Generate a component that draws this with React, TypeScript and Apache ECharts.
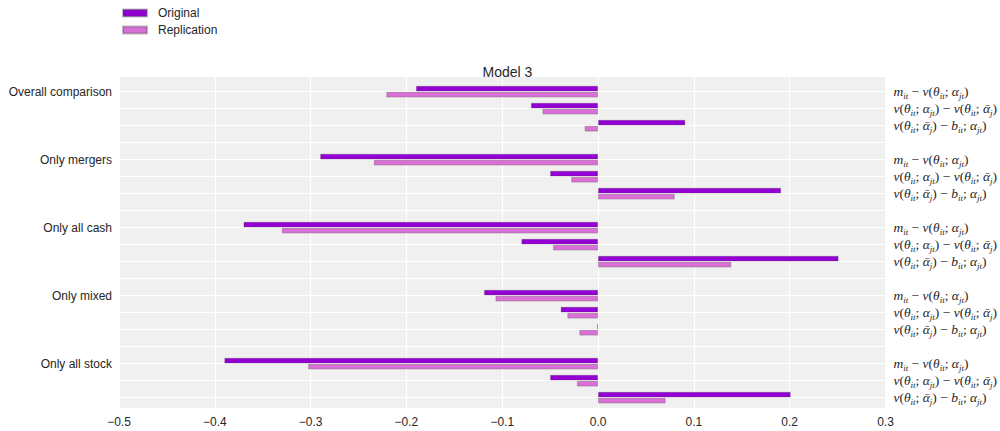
import React, { useEffect, useRef } from "react";
import * as echarts from "echarts";

const groups = ["Overall comparison", "Only mergers", "Only all cash", "Only mixed", "Only all stock"];
const formulas = [
  "{i|m}{s|it}{r| − }{i|v}{r|(}{i|θ}{s|it}{r|; }{i|α}{s|jt}{r|)}",
  "{i|v}{r|(}{i|θ}{s|it}{r|; }{i|α}{s|jt}{r|) − }{i|v}{r|(}{i|θ}{s|it}{r|; }{i|ᾱ}{s|j}{r|)}",
  "{i|v}{r|(}{i|θ}{s|it}{r|; }{i|ᾱ}{s|j}{r|) − }{i|b}{s|it}{r|; }{i|α}{s|jt}{r|)}",
];
const original = [
  [-0.19, -0.07, 0.091],
  [-0.29, -0.05, 0.191],
  [-0.37, -0.08, 0.251],
  [-0.119, -0.039, -0.001],
  [-0.39, -0.05, 0.201],
];
const replication = [
  [-0.221, -0.058, -0.014],
  [-0.234, -0.028, 0.08],
  [-0.33, -0.047, 0.139],
  [-0.107, -0.032, -0.0195],
  [-0.3025, -0.022, 0.0705],
];
const xTicks = { min: -0.5, max: 0.3, interval: 0.1 };

export default function App() {
  const ref = useRef<HTMLDivElement>(null);
  useEffect(() => {
    if (!ref.current) return;
    const chart = echarts.init(ref.current, null, { renderer: "svg" });

    const cats: string[] = [];
    const leftLabels: string[] = [];
    const rightLabels: string[] = [];
    const origData: (number | null)[] = [];
    const replData: (number | null)[] = [];
    const push = (l: string, r: string, o: number | null, p: number | null) => {
      cats.push(String(cats.length));
      leftLabels.push(l);
      rightLabels.push(r);
      origData.push(o);
      replData.push(p);
    };
    push("", "", null, null);
    groups.forEach((g, gi) => {
      for (let k = 0; k < 3; k++) {
        push(k === 0 ? g : "", formulas[k], original[gi][k], replication[gi][k]);
      }
      if (gi < groups.length - 1) push("", "", null, null);
    });
    push("", "", null, null);

    const textColor = "#262626";
    const mathFont = "'Liberation Serif', 'DejaVu Serif', serif";
    const border = { borderColor: "rgba(70,70,70,0.35)", borderWidth: 0.8 };

    chart.setOption({
      animation: false,
      textStyle: { fontFamily: "'Liberation Sans', Arial, sans-serif" },
      title: {
        text: "Model 3",
        left: 502.5,
        top: 60,
        textAlign: "center",
        textStyle: { fontSize: 14, fontWeight: "normal", color: textColor },
      },
      legend: {
        orient: "vertical",
        left: 117,
        top: 2,
        itemWidth: 24,
        itemHeight: 7,
        itemGap: 5,
        icon: "rect",
        textStyle: { fontSize: 12, color: textColor, padding: [0, 0, 0, 6] },
        data: ["Original", "Replication"],
      },
      graphic: [
        {
          type: "rect",
          z: -100,
          silent: true,
          shape: { x: 119, y: 77, width: 767, height: 331 },
          style: { fill: "#f0f0f0" },
        },
      ],
      grid: { left: 119, right: 114, top: 74.7, bottom: 16.3 },
      xAxis: {
        type: "value",
        min: xTicks.min,
        max: xTicks.max,
        interval: xTicks.interval,
        axisLine: { show: false },
        axisTick: { show: false },
        splitLine: { show: true, lineStyle: { color: "#ffffff", width: 1 } },
        axisLabel: {
          color: textColor,
          fontSize: 12,
          margin: 1,
          formatter: (v: number) => (v < -1e-9 ? "−" + Math.abs(v).toFixed(1) : Math.abs(v).toFixed(1)),
        },
      },
      yAxis: [
        {
          type: "category",
          data: cats,
          inverse: true,
          boundaryGap: false,
          position: "left",
          axisLine: { show: false },
          axisTick: { show: false },
          splitLine: { show: true, interval: 0, lineStyle: { color: "#ffffff", width: 1 } },
          axisLabel: {
            interval: 0,
            margin: 7,
            fontSize: 12,
            color: textColor,
            formatter: (_v: string, i: number) => leftLabels[i],
          },
        },
        {
          type: "category",
          data: cats,
          inverse: true,
          boundaryGap: false,
          position: "right",
          axisLine: { show: false },
          axisTick: { show: false },
          splitLine: { show: false },
          axisLabel: {
            interval: 0,
            margin: 8,
            formatter: (_v: string, i: number) => rightLabels[i],
            rich: {
              i: { fontFamily: mathFont, fontStyle: "italic", fontSize: 13.5, color: textColor, lineHeight: 17 },
              r: { fontFamily: mathFont, fontSize: 13.5, color: textColor, lineHeight: 17 },
              s: {
                fontFamily: mathFont,
                fontStyle: "italic",
                fontSize: 9,
                color: textColor,
                lineHeight: 11,
                verticalAlign: "bottom",
              },
            },
          },
        },
      ],
      series: [
        {
          name: "Original",
          type: "bar",
          yAxisIndex: 0,
          data: origData,
          barWidth: 5.6,
          barGap: "8%",
          itemStyle: { color: "#9400d3", ...border },
        },
        {
          name: "Replication",
          type: "bar",
          yAxisIndex: 0,
          data: replData,
          barWidth: 5.6,
          barGap: "8%",
          itemStyle: { color: "#da70d6", ...border },
        },
      ],
    });
    return () => chart.dispose();
  }, []);
  return <div ref={ref} style={{ width: 1000, height: 431, position: "absolute", left: 0, top: 0 }} />;
}
